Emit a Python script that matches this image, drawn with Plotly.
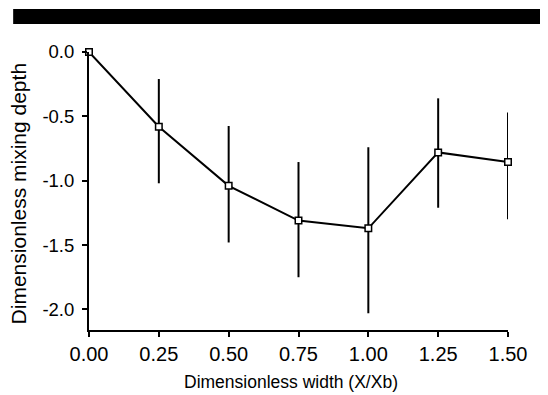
import plotly.graph_objects as go

x_width = [0.0, 0.25, 0.5, 0.75, 1.0, 1.25, 1.5]
mixing_depth = [0.0, -0.58, -1.04, -1.31, -1.37, -0.78, -0.855]
err_plus = [0.0, 0.37, 0.465, 0.455, 0.63, 0.42, 0.385]
err_minus = [0.0, 0.44, 0.44, 0.44, 0.66, 0.43, 0.445]

x_ticks = [0.0, 0.25, 0.5, 0.75, 1.0, 1.25, 1.5]
x_tick_text = ["0.00", "0.25", "0.50", "0.75", "1.00", "1.25", "1.50"]
y_ticks = [0.0, -0.5, -1.0, -1.5, -2.0]
y_tick_text = ["0.0", "-0.5", "-1.0", "-1.5", "-2.0"]
x_title = "Dimensionless width (X/Xb)"
y_title = "Dimensionless mixing depth"

FONT = "Liberation Sans, Arial, Helvetica, sans-serif"

fig = go.Figure()
fig.add_trace(go.Scatter(
    x=x_width, y=mixing_depth,
    mode="lines+markers",
    line=dict(color="black", width=2),
    marker=dict(symbol="square", size=6.5, color="white",
                line=dict(color="black", width=1.5)),
    error_y=dict(type="data", symmetric=False, array=err_plus,
                 arrayminus=err_minus, color="black", thickness=2, width=0),
    cliponaxis=False,
    showlegend=False,
))

fig.update_layout(
    width=540, height=387,
    margin=dict(l=81, r=40, t=44, b=65),
    paper_bgcolor="white", plot_bgcolor="white",
    font=dict(family=FONT, color="black"),
    xaxis=dict(
        range=[0, 1.5], tickvals=x_ticks, ticktext=x_tick_text, automargin=False,
        showgrid=False, zeroline=False, showline=True, linecolor="black",
        linewidth=2, ticks="outside", ticklen=5, tickwidth=2, tickcolor="black",
        tickfont=dict(size=20), ticklabelstandoff=0,
    ),
    yaxis=dict(
        range=[-2.16, 0], tickvals=y_ticks, ticktext=y_tick_text, automargin=False,
        showgrid=False, zeroline=False, showline=True, linecolor="black",
        linewidth=2, ticks="outside", ticklen=5, tickwidth=2, tickcolor="black",
        tickfont=dict(size=18.5), ticklabelstandoff=4,
    ),
    annotations=[
        dict(text=x_title, xref="paper", yref="paper", x=0.483, y=-0.187,
             xanchor="center", yanchor="middle", showarrow=False,
             font=dict(size=17.5)),
        dict(text=y_title, xref="paper", yref="paper", x=-0.168, y=0.49,
             xanchor="center", yanchor="middle", showarrow=False,
             textangle=-90, font=dict(size=21)),
    ],
    shapes=[dict(type="rect", xref="paper", yref="paper",
                 x0=-0.181, x1=1.1, y0=1.1007, y1=1.1547,
                 fillcolor="black", line=dict(width=0))],
)

fig.write_html("out.html")
